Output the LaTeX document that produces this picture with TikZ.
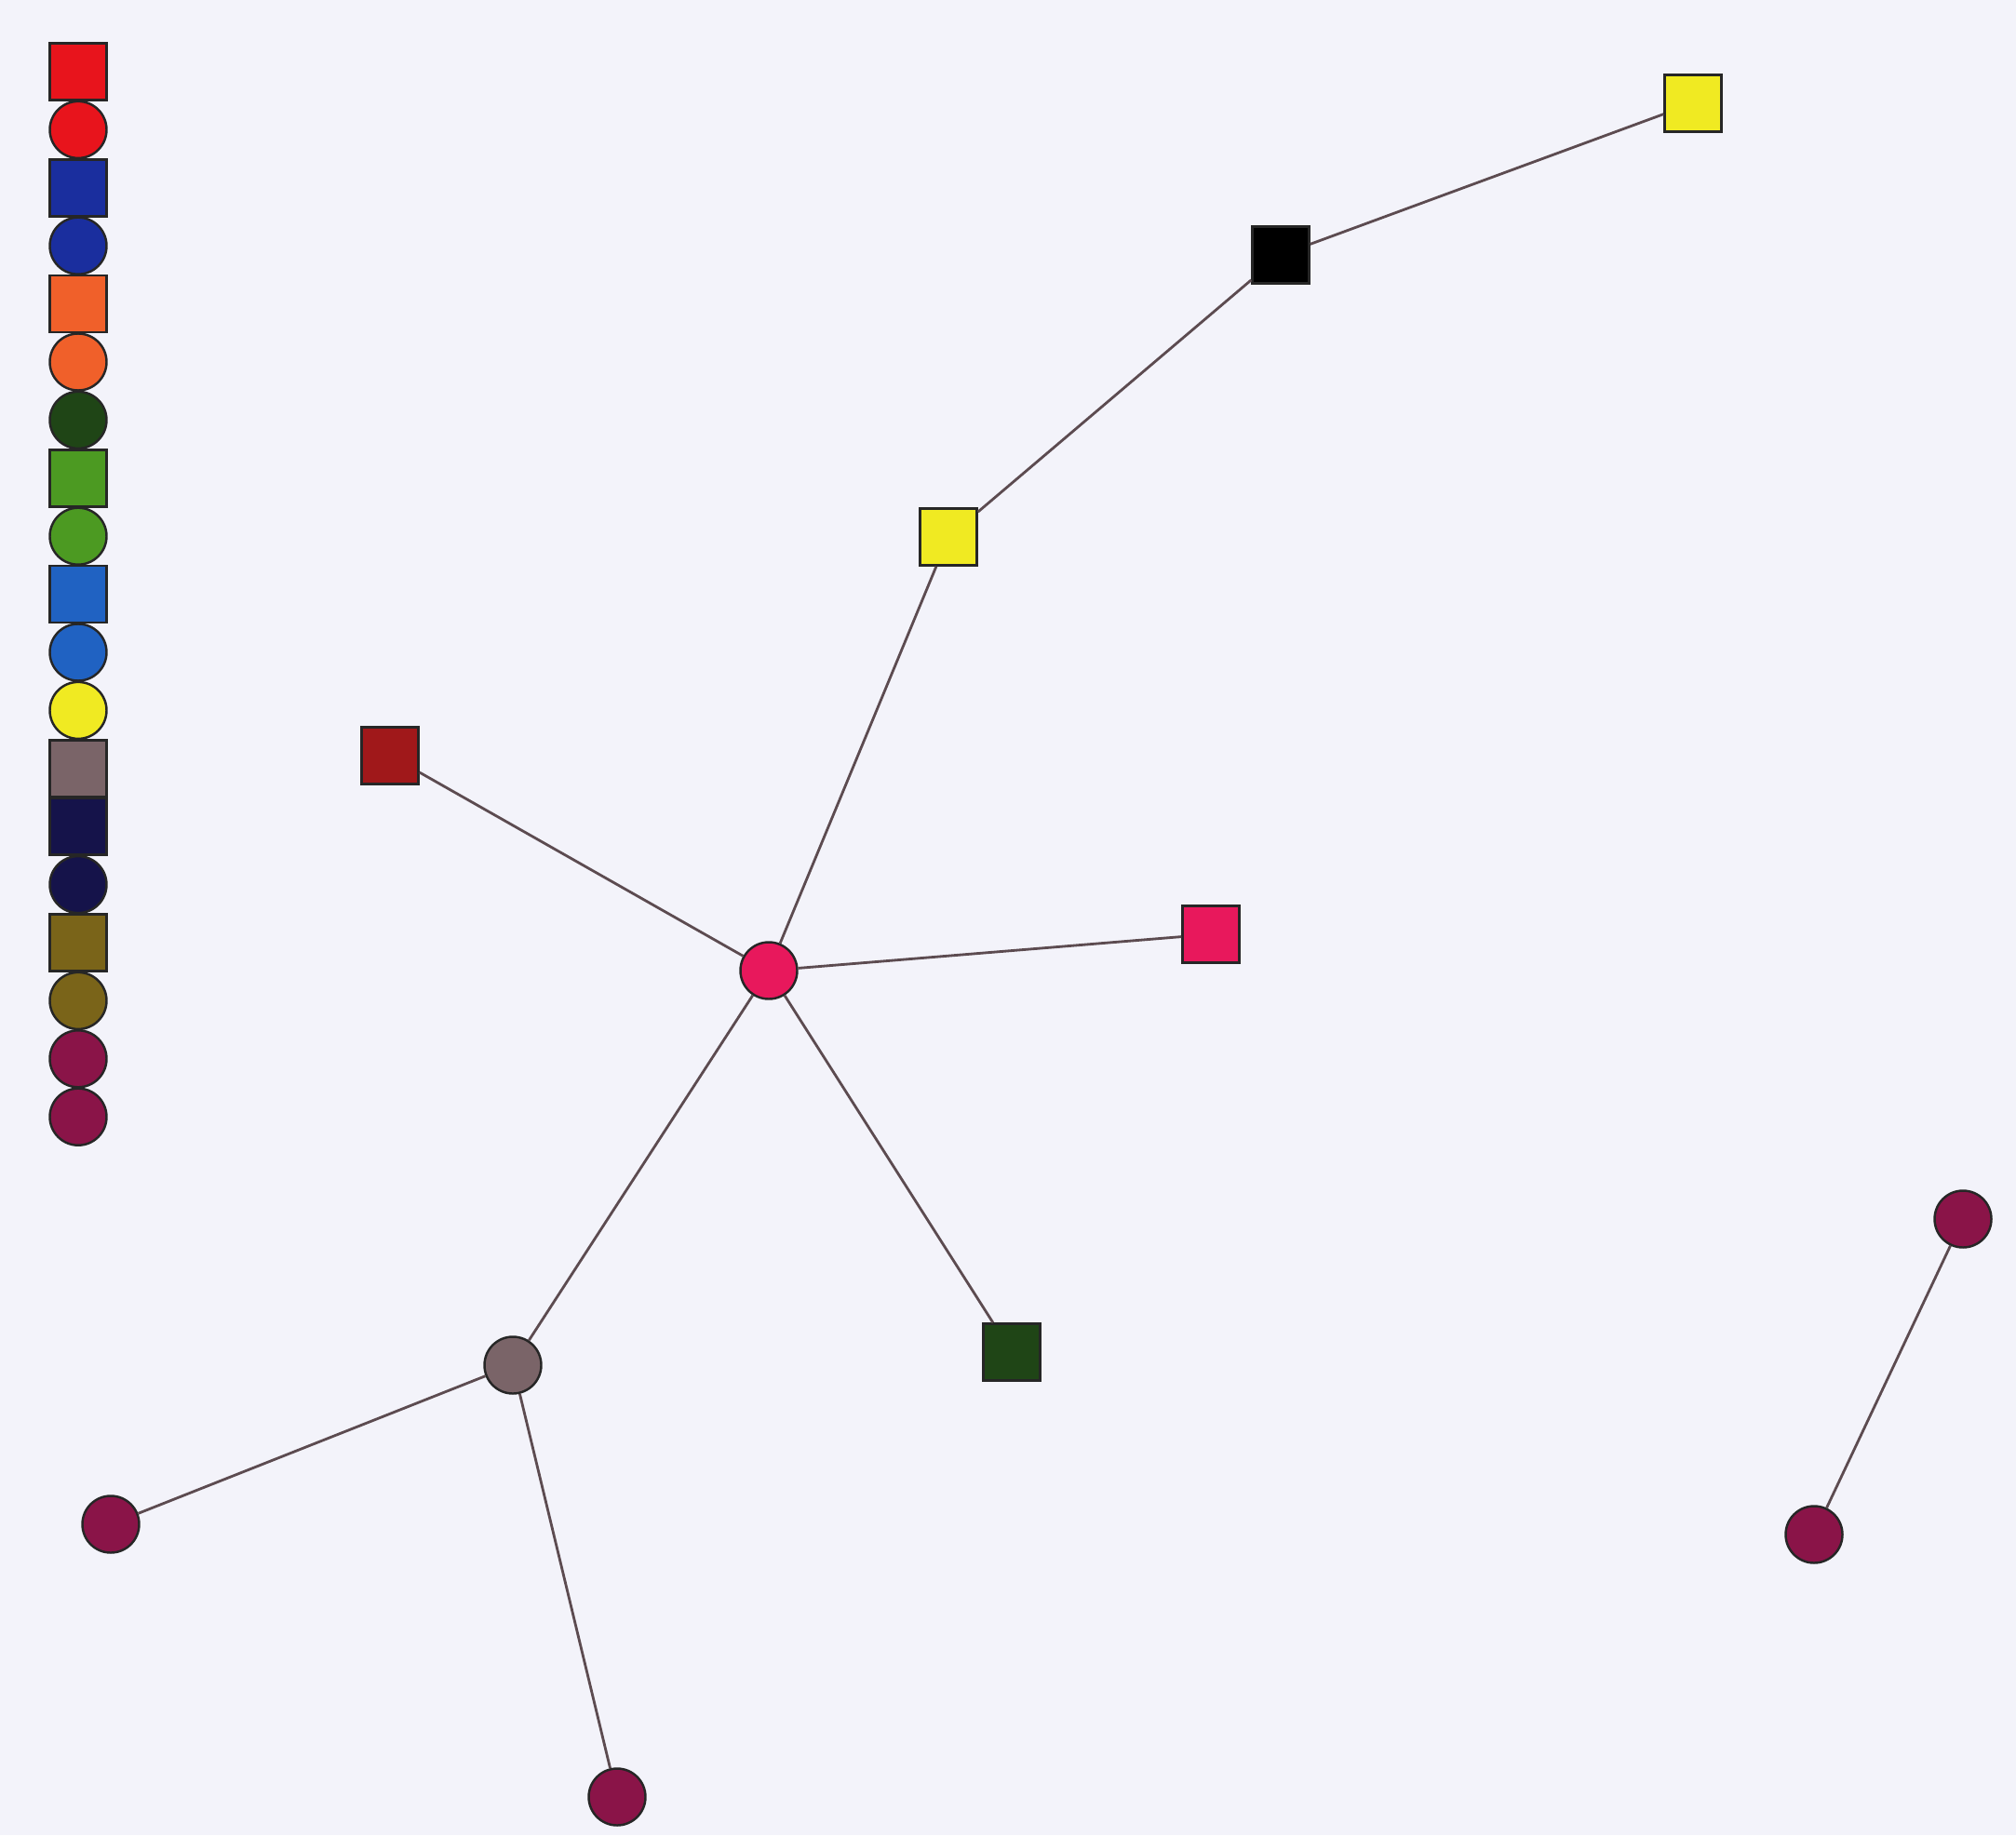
\documentclass[tikz,border=0pt]{standalone}
\usepackage{tikz}
\definecolor{paper}{HTML}{F3F3FA}
\definecolor{tiecol}{HTML}{5C4B50}
\definecolor{cred}{HTML}{E8141C}
\definecolor{cblue}{HTML}{1A2E9E}
\definecolor{corange}{HTML}{F0602A}
\definecolor{cdkgreen}{HTML}{1F4516}
\definecolor{cgreen}{HTML}{4C9A22}
\definecolor{cmblue}{HTML}{2062C2}
\definecolor{cyellow}{HTML}{F0EA22}
\definecolor{cgrey}{HTML}{7A6468}
\definecolor{cnavy}{HTML}{15134A}
\definecolor{colive}{HTML}{7A6419}
\definecolor{cmaroon}{HTML}{8A1448}
\definecolor{cpink}{HTML}{E8185C}
\definecolor{cdkred}{HTML}{A0181A}
\tikzset{org/.style={draw=black!85,line width=.7pt,minimum size=6.1mm,inner sep=0pt},
 orgsq/.style={org,rectangle},
 orgci/.style={org,circle},
 tie/.style={line width=.8pt,draw=tiecol}}

\begin{document}
\begin{tikzpicture}[x=1cm,y=1cm]
 \fill[paper] (0,0) rectangle (21.66,-19.72);
 \useasboundingbox (0,0) rectangle (21.66,-19.72);
 % legend column
 \foreach \shp/\col [count=\i] in {rectangle/cred,circle/cred,rectangle/cblue,circle/cblue,
   rectangle/corange,circle/corange,circle/cdkgreen,rectangle/cgreen,circle/cgreen,
   rectangle/cmblue,circle/cmblue,circle/cyellow,rectangle/cgrey,rectangle/cnavy,
   circle/cnavy,rectangle/colive,circle/colive,circle/cmaroon,circle/cmaroon}
  \node[org,shape=\shp,fill=\col] (lg\i) at (.84,{-.77-(\i-1)*.624}) {};
 % network
 \node[orgsq,fill=cyellow] (yelTop) at (18.19,-1.11) {};
 \node[orgsq,fill=black] (blk) at (13.76,-2.74) {};
 \node[orgsq,fill=cyellow] (yelMid) at (10.19,-5.77) {};
 \node[orgsq,fill=cdkred] (dkred) at (4.19,-8.12) {};
 \node[orgci,fill=cpink] (hub) at (8.26,-10.43) {};
 \node[orgsq,fill=cpink] (pinkSq) at (13.01,-10.04) {};
 \node[orgsq,fill=cdkgreen] (dkgreen) at (10.87,-14.53) {};
 \node[orgci,fill=cgrey] (grey) at (5.51,-14.67) {};
 \node[orgci,fill=cmaroon] (marL) at (1.19,-16.38) {};
 \node[orgci,fill=cmaroon] (marB) at (6.63,-19.31) {};
 \node[orgci,fill=cmaroon] (marRT) at (21.09,-13.10) {};
 \node[orgci,fill=cmaroon] (marRB) at (19.49,-16.49) {};
 \draw[tie] (yelTop)--(blk);
 \draw[tie] (blk)--(yelMid);
 \draw[tie] (yelMid)--(hub);
 \draw[tie] (dkred)--(hub);
 \draw[tie] (hub)--(pinkSq);
 \draw[tie] (hub)--(dkgreen);
 \draw[tie] (hub)--(grey);
 \draw[tie] (grey)--(marL);
 \draw[tie] (grey)--(marB);
 \draw[tie] (marRT)--(marRB);
\end{tikzpicture}
\end{document}
